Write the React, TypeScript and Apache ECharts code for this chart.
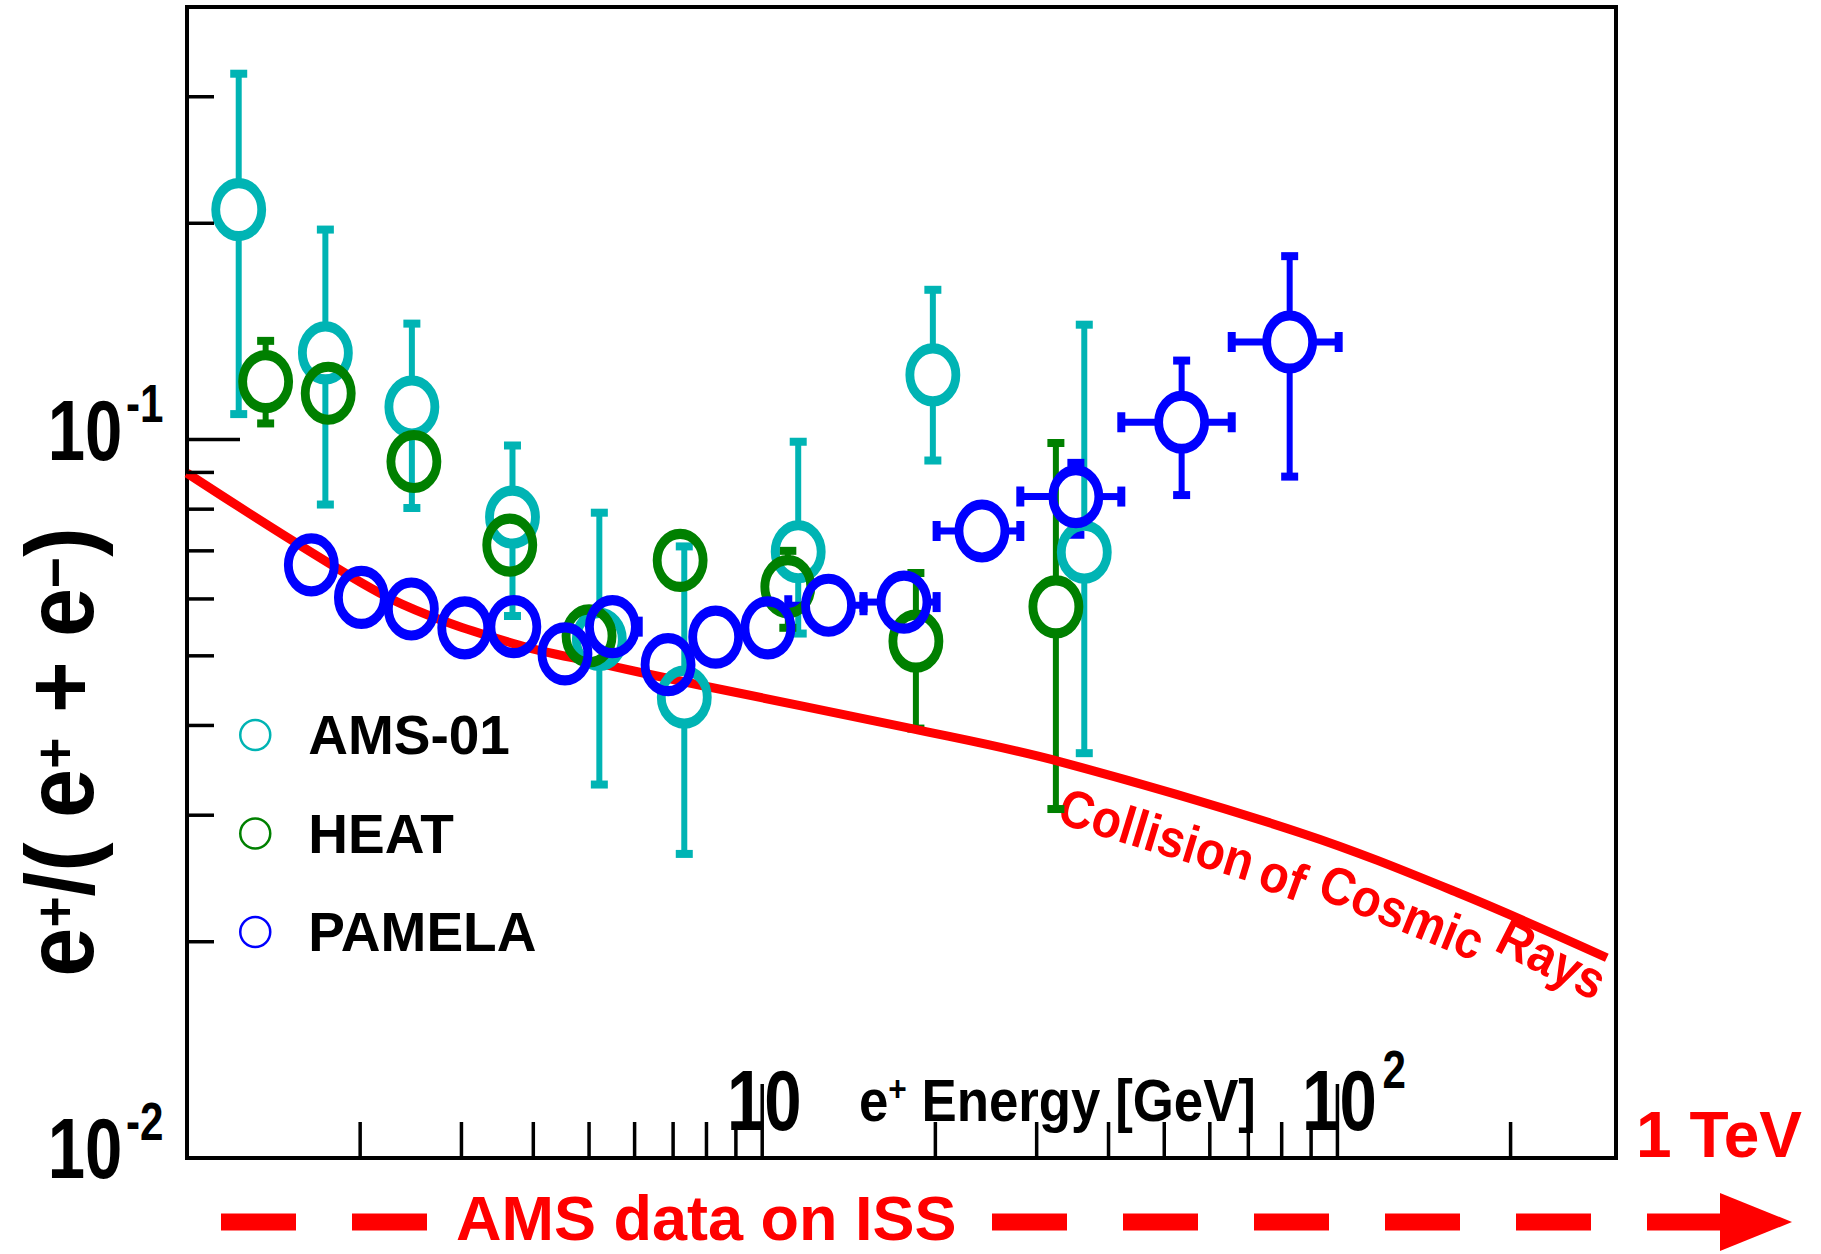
import React, { useEffect, useRef } from 'react';
import * as echarts from 'echarts';

const SANS = "'Liberation Sans', Arial, Helvetica, sans-serif";

const X_MIN = 1;
const X_MAX = 305;
const Y_MIN = 0.01;
const Y_MAX = 0.4;

// AMS-01
const amsEnergy = [1.23, 1.74, 2.46, 3.68, 5.21, 7.32, 11.55, 19.8, 36.3];
const amsRatio = [0.209, 0.132, 0.111, 0.078, 0.0527, 0.0438, 0.0698, 0.123, 0.0697];
const amsLow = [0.1085, 0.0812, 0.0803, 0.0568, 0.0331, 0.0265, 0.0537, 0.0935, 0.0366];
const amsHigh = [0.323, 0.196, 0.145, 0.0981, 0.0791, 0.071, 0.0993, 0.1616, 0.1445];

// HEAT
const heatEnergy = [1.37, 1.76, 2.48, 3.64, 5.0, 7.2, 11.08, 18.5, 32.4];
const heatRatio = [0.1204, 0.116, 0.0932, 0.0713, 0.0533, 0.0679, 0.0624, 0.0524, 0.0585];
const heatLow = [0.1053, 0.111, 0.089, 0.068, 0.051, 0.065, 0.0547, 0.0396, 0.0306];
const heatHigh = [0.1372, 0.121, 0.098, 0.075, 0.056, 0.071, 0.07, 0.0652, 0.0989];

// PAMELA
const pamEnergy = [1.645, 2.01, 2.455, 3.04, 3.7, 4.54, 5.49, 6.86, 8.3, 10.23, 13.04, 17.64, 24.1, 35.1, 53.6, 82.6];
const pamRatio = [0.0669, 0.0603, 0.0581, 0.0547, 0.0549, 0.0503, 0.0549, 0.0486, 0.0531, 0.0547, 0.0588, 0.0594, 0.0746, 0.0833, 0.1057, 0.1367];
const pamLow = [0.0655, 0.059, 0.0569, 0.0536, 0.0538, 0.0493, 0.0538, 0.0476, 0.052, 0.0536, 0.0574, 0.058, 0.071, 0.0737, 0.0837, 0.0888];
const pamHigh = [0.0683, 0.0616, 0.0593, 0.0558, 0.056, 0.0513, 0.056, 0.0496, 0.0542, 0.0558, 0.0602, 0.0608, 0.0782, 0.0928, 0.1288, 0.18];
const pamEnergyLow = [1.6, 1.96, 2.4, 2.95, 3.6, 4.4, 5.3, 6.6, 8.0, 9.9, 11.1, 15.0, 20.1, 28.1, 42.1, 65.5];
const pamEnergyHigh = [1.7, 2.06, 2.5, 3.1, 3.8, 4.7, 6.1, 7.1, 8.6, 10.6, 15.0, 20.1, 28.1, 42.1, 65.5, 100.5];

// Secondary production curve ("Collision of Cosmic Rays")
const curveEnergy = [1.0, 1.653, 2.364, 3.695, 5.21, 7.81, 18.2, 33.0, 86.9, 162, 294];
const curveRatio = [0.0898, 0.0695, 0.059, 0.052, 0.0488, 0.0455, 0.0396, 0.0356, 0.0283, 0.0234, 0.019];

// Axis ticks
const xMinorTicks = [2, 3, 4, 5, 6, 7, 8, 9, 20, 30, 40, 50, 60, 70, 80, 90, 200];
const xMajorTicks = [10, 100];
const yMinorTicks = [0.02, 0.03, 0.04, 0.05, 0.06, 0.07, 0.08, 0.09, 0.2, 0.3];
const yMajorTicks = [0.01, 0.1];

// Tick labels (mantissa + exponent)
const xLabelValues = [10, 100];
const xLabelMantissa = ['10', '10'];
const xLabelExponent = ['', '2'];
const yLabelValues = [0.1, 0.01];
const yLabelMantissa = ['10', '10'];
const yLabelExponent = ['-1', '-2'];

const legendNames = ['AMS-01', 'HEAT', 'PAMELA'];

const CYAN = '#00B4B4';
const GREEN = '#008000';
const BLUE = '#0000FF';
const RED = '#FF0000';

const ELLIPSE = 'path://M0,-1C0.5523,-1,1,-0.5523,1,0C1,0.5523,0.5523,1,0,1C-0.5523,1,-1,0.5523,-1,0C-1,-0.5523,-0.5523,-1,0,-1Z';
const MW = 46;
const MH = 53;
const RX = MW / 2;
const RY = MH / 2;
const LABEL_SCALE = 0.78;

function errSeries(name: string, color: string, e: number[], r: number[], lo: number[], hi: number[], elo?: number[], ehi?: number[]) {
  return {
    type: 'custom',
    name: name + ' errors',
    coordinateSystem: 'cartesian2d',
    silent: true,
    z: 2,
    encode: { x: 0, y: 1 },
    data: e.map((x, i) => [x, r[i], lo[i], hi[i], elo ? elo[i] : x, ehi ? ehi[i] : x]),
    renderItem: (params: any, api: any) => {
      const x = api.value(0);
      const y = api.value(1);
      const c = api.coord([x, y]);
      const lw = 6;
      const children: any[] = [];
      const hi = api.coord([x, api.value(3)]);
      const lo = api.coord([x, api.value(2)]);
      const xl = api.coord([api.value(4), y]);
      const xh = api.coord([api.value(5), y]);
      if (hi[1] < c[1] - RY) {
        children.push({ type: 'line', shape: { x1: c[0], y1: c[1] - RY, x2: c[0], y2: hi[1] }, style: { stroke: color, lineWidth: lw } });
        children.push({ type: 'rect', shape: { x: c[0] - 8.5, y: hi[1] - 4, width: 17, height: 8 }, style: { fill: color } });
      }
      if (lo[1] > c[1] + RY) {
        children.push({ type: 'line', shape: { x1: c[0], y1: c[1] + RY, x2: c[0], y2: lo[1] }, style: { stroke: color, lineWidth: lw } });
        children.push({ type: 'rect', shape: { x: c[0] - 8.5, y: lo[1] - 4, width: 17, height: 8 }, style: { fill: color } });
      }
      if (xl[0] < c[0] - RX) {
        children.push({ type: 'line', shape: { x1: c[0] - RX, y1: c[1], x2: xl[0], y2: c[1] }, style: { stroke: color, lineWidth: 7 } });
        children.push({ type: 'rect', shape: { x: xl[0] - 4, y: c[1] - 10, width: 8, height: 20 }, style: { fill: color } });
      }
      if (xh[0] > c[0] + RX) {
        children.push({ type: 'line', shape: { x1: c[0] + RX, y1: c[1], x2: xh[0], y2: c[1] }, style: { stroke: color, lineWidth: 7 } });
        children.push({ type: 'rect', shape: { x: xh[0] - 4, y: c[1] - 10, width: 8, height: 20 }, style: { fill: color } });
      }
      return { type: 'group', children };
    },
  };
}

function markerSeries(name: string, color: string, e: number[], r: number[]) {
  return {
    type: 'scatter',
    name,
    silent: true,
    z: 2,
    data: e.map((x, i) => [x, r[i]]),
    symbol: ELLIPSE,
    symbolSize: [MW, MH],
    symbolKeepAspect: false,
    itemStyle: { color: 'rgba(0,0,0,0)', borderColor: color, borderWidth: 9.5, opacity: 1 },
  };
}

function xTickSeries(vals: number[], len: number) {
  return {
    type: 'custom',
    coordinateSystem: 'cartesian2d',
    silent: true,
    z: 10,
    encode: { x: 0, y: 1 },
    data: vals.map((v) => [v, Y_MIN]),
    renderItem: (params: any, api: any) => {
      const c = api.coord([api.value(0), Y_MIN]);
      return { type: 'line', shape: { x1: c[0], y1: c[1], x2: c[0], y2: c[1] - len }, style: { stroke: '#000', lineWidth: 3.5 } };
    },
  };
}

function yTickSeries(vals: number[], len: number) {
  return {
    type: 'custom',
    coordinateSystem: 'cartesian2d',
    silent: true,
    z: 10,
    encode: { x: 0, y: 1 },
    data: vals.map((v) => [X_MIN, v]),
    renderItem: (params: any, api: any) => {
      const c = api.coord([X_MIN, api.value(1)]);
      return { type: 'line', shape: { x1: c[0], y1: c[1], x2: c[0] + len, y2: c[1] }, style: { stroke: '#000', lineWidth: 3.5 } };
    },
  };
}

const mantissaStyle = (text: string, align: string) => ({
  text, fontSize: 86, fontWeight: 'bold', fontFamily: SANS, fill: '#000', align, verticalAlign: 'middle',
});
const exponentStyle = (text: string) => ({
  text, fontSize: 54, fontWeight: 'bold', fontFamily: SANS, fill: '#000', align: 'left', verticalAlign: 'middle',
});

function xLabelSeries() {
  return {
    type: 'custom',
    coordinateSystem: 'cartesian2d',
    silent: true,
    z: 11,
    encode: { x: 0, y: 1 },
    data: xLabelValues.map((v) => [v, Y_MIN]),
    renderItem: (params: any, api: any) => {
      const i = params.dataIndex;
      const c = api.coord([api.value(0), Y_MIN]);
      const cy = c[1] - 58;
      const children: any[] = [
        { type: 'text', x: c[0] + 2, y: cy, scaleX: LABEL_SCALE, style: mantissaStyle(xLabelMantissa[i], 'center') },
      ];
      if (xLabelExponent[i]) {
        children.push({ type: 'text', x: c[0] + 45, y: cy - 31, scaleX: LABEL_SCALE, style: exponentStyle(xLabelExponent[i]) });
      }
      return { type: 'group', children };
    },
  };
}

function yLabelSeries() {
  return {
    type: 'custom',
    coordinateSystem: 'cartesian2d',
    silent: true,
    z: 11,
    encode: { x: 0, y: 1 },
    data: yLabelValues.map((v) => [X_MIN, v]),
    renderItem: (params: any, api: any) => {
      const i = params.dataIndex;
      const c = api.coord([X_MIN, api.value(1)]);
      const cy = c[1] - 10;
      return {
        type: 'group',
        children: [
          { type: 'text', x: c[0] - 102, y: cy, scaleX: LABEL_SCALE, style: mantissaStyle(yLabelMantissa[i], 'center') },
          { type: 'text', x: c[0] - 61, y: cy - 27, scaleX: LABEL_SCALE, style: exponentStyle(yLabelExponent[i]) },
        ],
      };
    },
  };
}

function buildOption() {
  return {
    animation: false,
    backgroundColor: '#fff',
    grid: {
      left: 187, right: 205, top: 7, bottom: 96,
      show: true, borderColor: '#000', borderWidth: 4, backgroundColor: 'transparent',
      containLabel: false, outerBoundsMode: 'none',
    },
    legend: {
      data: legendNames,
      orient: 'vertical',
      left: 234,
      top: 700,
      padding: 5,
      itemGap: 38.5,
      itemWidth: 30,
      itemHeight: 35,
      icon: ELLIPSE,
      selectedMode: false,
      itemStyle: { color: 'rgba(0,0,0,0)', borderWidth: 2.5 },
      textStyle: { fontFamily: SANS, fontWeight: 'bold', fontSize: 55, lineHeight: 60, color: '#000', padding: [0, 0, 0, 33] },
    },
    xAxis: {
      type: 'log', logBase: 10, min: X_MIN, max: X_MAX,
      axisLine: { show: false }, axisTick: { show: false }, splitLine: { show: false }, minorTick: { show: false },
      axisLabel: { show: false },
    },
    yAxis: {
      type: 'log', logBase: 10, min: Y_MIN, max: Y_MAX,
      axisLine: { show: false }, axisTick: { show: false }, splitLine: { show: false }, minorTick: { show: false },
      axisLabel: { show: false },
    },
    series: [
      errSeries('AMS-01', CYAN, amsEnergy, amsRatio, amsLow, amsHigh),
      markerSeries('AMS-01', CYAN, amsEnergy, amsRatio),
      errSeries('HEAT', GREEN, heatEnergy, heatRatio, heatLow, heatHigh),
      markerSeries('HEAT', GREEN, heatEnergy, heatRatio),
      errSeries('PAMELA', BLUE, pamEnergy, pamRatio, pamLow, pamHigh, pamEnergyLow, pamEnergyHigh),
      markerSeries('PAMELA', BLUE, pamEnergy, pamRatio),
      {
        type: 'line', name: 'Collision of Cosmic Rays', silent: true, z: 2,
        data: curveEnergy.map((x, i) => [x, curveRatio[i]]),
        smooth: 0.35, symbol: 'none', showSymbol: false,
        lineStyle: { color: RED, width: 9 },
      },
      xTickSeries(xMinorTicks, 36),
      xTickSeries(xMajorTicks, 74),
      yTickSeries(yMinorTicks, 27),
      yTickSeries(yMajorTicks, 53),
      xLabelSeries(),
      yLabelSeries(),
    ],
    graphic: {
      elements: [
        {
          type: 'text', x: 60, y: 752, rotation: Math.PI / 2, scaleX: 0.92, scaleY: 1.0, silent: true,
          style: {
            text: '{b|e}{s|+}{b|/( e}{s|+}{b| + e}{s|−}{b|)}',
            align: 'center', verticalAlign: 'middle',
            rich: {
              b: { fontSize: 96, fontWeight: 'bold', fontFamily: SANS, fill: '#000', lineHeight: 68 },
              s: { fontSize: 58, fontWeight: 'bold', fontFamily: SANS, fill: '#000', lineHeight: 58, verticalAlign: 'top' },
            },
          },
        },
        {
          type: 'text', x: 859, y: 1100, scaleX: 0.88, silent: true,
          style: {
            text: '{b|e}{s|+}{b| Energy [GeV]}',
            align: 'left', verticalAlign: 'middle',
            rich: {
              b: { fontSize: 60, fontWeight: 'bold', fontFamily: SANS, fill: '#000', lineHeight: 60 },
              s: { fontSize: 36, fontWeight: 'bold', fontFamily: SANS, fill: '#000', lineHeight: 50, verticalAlign: 'top' },
            },
          },
        },
        { type: 'text', x: 1157, y: 834, rotation: -0.297, scaleX: 0.9, silent: true, style: { text: 'Collision', fontSize: 53, fontWeight: 'bold', fontFamily: SANS, fill: RED, align: 'center', verticalAlign: 'middle' } },
        { type: 'text', x: 1283, y: 877, rotation: -0.349, scaleX: 0.9, silent: true, style: { text: 'of', fontSize: 53, fontWeight: 'bold', fontFamily: SANS, fill: RED, align: 'center', verticalAlign: 'middle' } },
        { type: 'text', x: 1402, y: 912, rotation: -0.384, scaleX: 0.9, silent: true, style: { text: 'Cosmic', fontSize: 53, fontWeight: 'bold', fontFamily: SANS, fill: RED, align: 'center', verticalAlign: 'middle' } },
        { type: 'text', x: 1552, y: 959, rotation: -0.471, scaleX: 0.9, silent: true, style: { text: 'Rays', fontSize: 53, fontWeight: 'bold', fontFamily: SANS, fill: RED, align: 'center', verticalAlign: 'middle' } },
        { type: 'text', x: 1636, y: 1135, silent: true, style: { text: '1 TeV', fontSize: 64, fontWeight: 'bold', fontFamily: SANS, fill: RED, align: 'left', verticalAlign: 'middle' } },
        { type: 'text', x: 456, y: 1218, silent: true, style: { text: 'AMS data on ISS', fontSize: 63, fontWeight: 'bold', fontFamily: SANS, fill: RED, align: 'left', verticalAlign: 'middle' } },
        { type: 'line', silent: true, shape: { x1: 221, y1: 1222, x2: 427, y2: 1222 }, style: { stroke: RED, lineWidth: 17, lineDash: [75, 56] } },
        { type: 'line', silent: true, shape: { x1: 992, y1: 1222, x2: 1722, y2: 1222 }, style: { stroke: RED, lineWidth: 17, lineDash: [75, 56] } },
        { type: 'polygon', silent: true, shape: { points: [[1720, 1193], [1792, 1222], [1720, 1251]] }, style: { fill: RED } },
      ],
    },
  };
}

export default function App() {
  const ref = useRef<HTMLDivElement | null>(null);
  useEffect(() => {
    if (!ref.current) return;
    const chart = echarts.init(ref.current, null, { renderer: 'svg' });
    chart.setOption(buildOption() as any);
    return () => chart.dispose();
  }, []);
  return (
    <div
      ref={ref}
      style={{ position: 'absolute', left: 0, top: 0, width: 1821, height: 1254, background: '#fff' }}
    />
  );
}
